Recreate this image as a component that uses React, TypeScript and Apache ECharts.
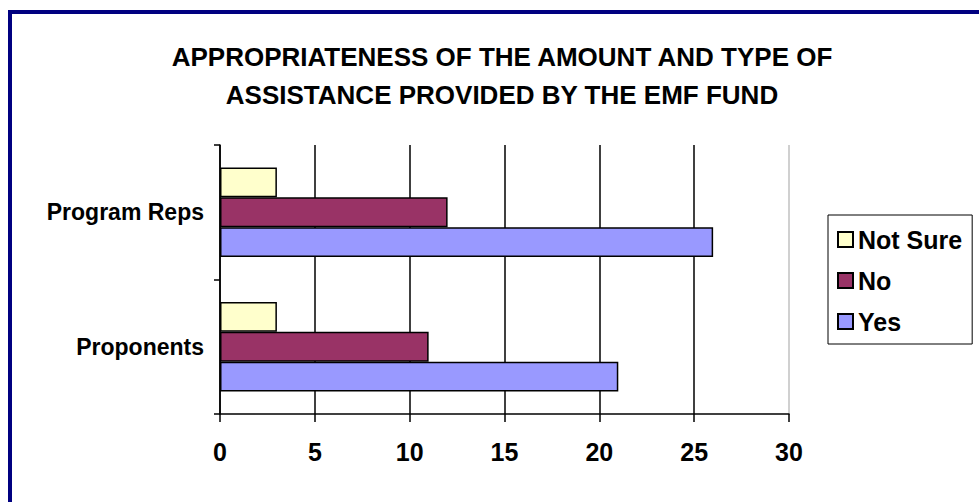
import React, { useEffect, useRef } from "react";
import * as echarts from "echarts";

const titleLines = [
  "APPROPRIATENESS OF THE AMOUNT AND TYPE OF",
  "ASSISTANCE PROVIDED BY THE EMF FUND",
];
const categories = ["Proponents", "Program Reps"];
const seriesNames = ["Not Sure", "No", "Yes"];
const notSure = [3, 3];
const no = [11, 12];
const yes = [21, 26];
const colors = ["#FFFFCC", "#993366", "#9999FF"];

const FONT = "'Liberation Sans', Arial, sans-serif";

export default function App() {
  const ref = useRef<HTMLDivElement>(null);
  useEffect(() => {
    if (!ref.current) return;
    const chart = echarts.init(ref.current, null, { renderer: "svg" });
    const values = [notSure, no, yes];
    chart.setOption({
      animation: false,
      backgroundColor: "#ffffff",
      textStyle: { fontFamily: FONT },
      title: {
        text: titleLines.join("\n"),
        left: 497,
        top: 33,
        textAlign: "center",
        textStyle: {
          fontFamily: FONT,
          fontSize: 26,
          fontWeight: "bold",
          color: "#000",
          lineHeight: 38,
        },
      },
      legend: {
        orient: "vertical",
        left: 828,
        top: 215,
        data: seriesNames,
        itemWidth: 15,
        itemHeight: 15,
        itemGap: 16,
        padding: [12, 10, 10, 9],
        borderColor: "#000",
        borderWidth: 1,
        icon: "rect",
        textStyle: {
          fontFamily: FONT,
          fontSize: 25,
          fontWeight: "bold",
          color: "#000",
        },
      },
      grid: { left: 220, right: 190, top: 145, bottom: 88, containLabel: false },
      xAxis: {
        type: "value",
        min: 0,
        max: 30,
        interval: 5,
        axisLine: { show: true, lineStyle: { color: "#000", width: 1.5 } },
        axisTick: { show: true, length: 8, lineStyle: { color: "#000", width: 1.5 } },
        axisLabel: {
          margin: 25,
          fontFamily: FONT,
          fontSize: 25,
          fontWeight: "bold",
          color: "#000",
        },
        splitLine: {
          show: true,
          lineStyle: {
            color: ["#000", "#000", "#000", "#000", "#000", "#000", "#c0c0c0"],
            width: 1.5,
          },
        },
      },
      yAxis: {
        type: "category",
        data: categories,
        axisLine: { show: true, lineStyle: { color: "#000", width: 1.5 } },
        axisTick: { show: true, length: 6, alignWithLabel: false, lineStyle: { color: "#000", width: 1.5 } },
        axisLabel: {
          margin: 16,
          fontFamily: FONT,
          fontSize: 23,
          fontWeight: "bold",
          color: "#000",
        },
      },
      series: seriesNames.map((name, i) => ({
        name,
        type: "bar",
        data: values[i],
        barGap: "0%",
        barCategoryGap: "33.3%",
        itemStyle: { color: colors[i], borderColor: "#000", borderWidth: 1.5 },
      })),
      graphic: [
        {
          type: "rect",
          shape: { x: 10, y: 12, width: 1200, height: 800 },
          style: { fill: "none", stroke: "#000080", lineWidth: 4 },
          silent: true,
          z: 100,
        },
      ],
    });
    return () => chart.dispose();
  }, []);
  return (
    <div
      ref={ref}
      style={{ position: "fixed", left: 0, top: 0, width: 979, height: 502 }}
    />
  );
}
